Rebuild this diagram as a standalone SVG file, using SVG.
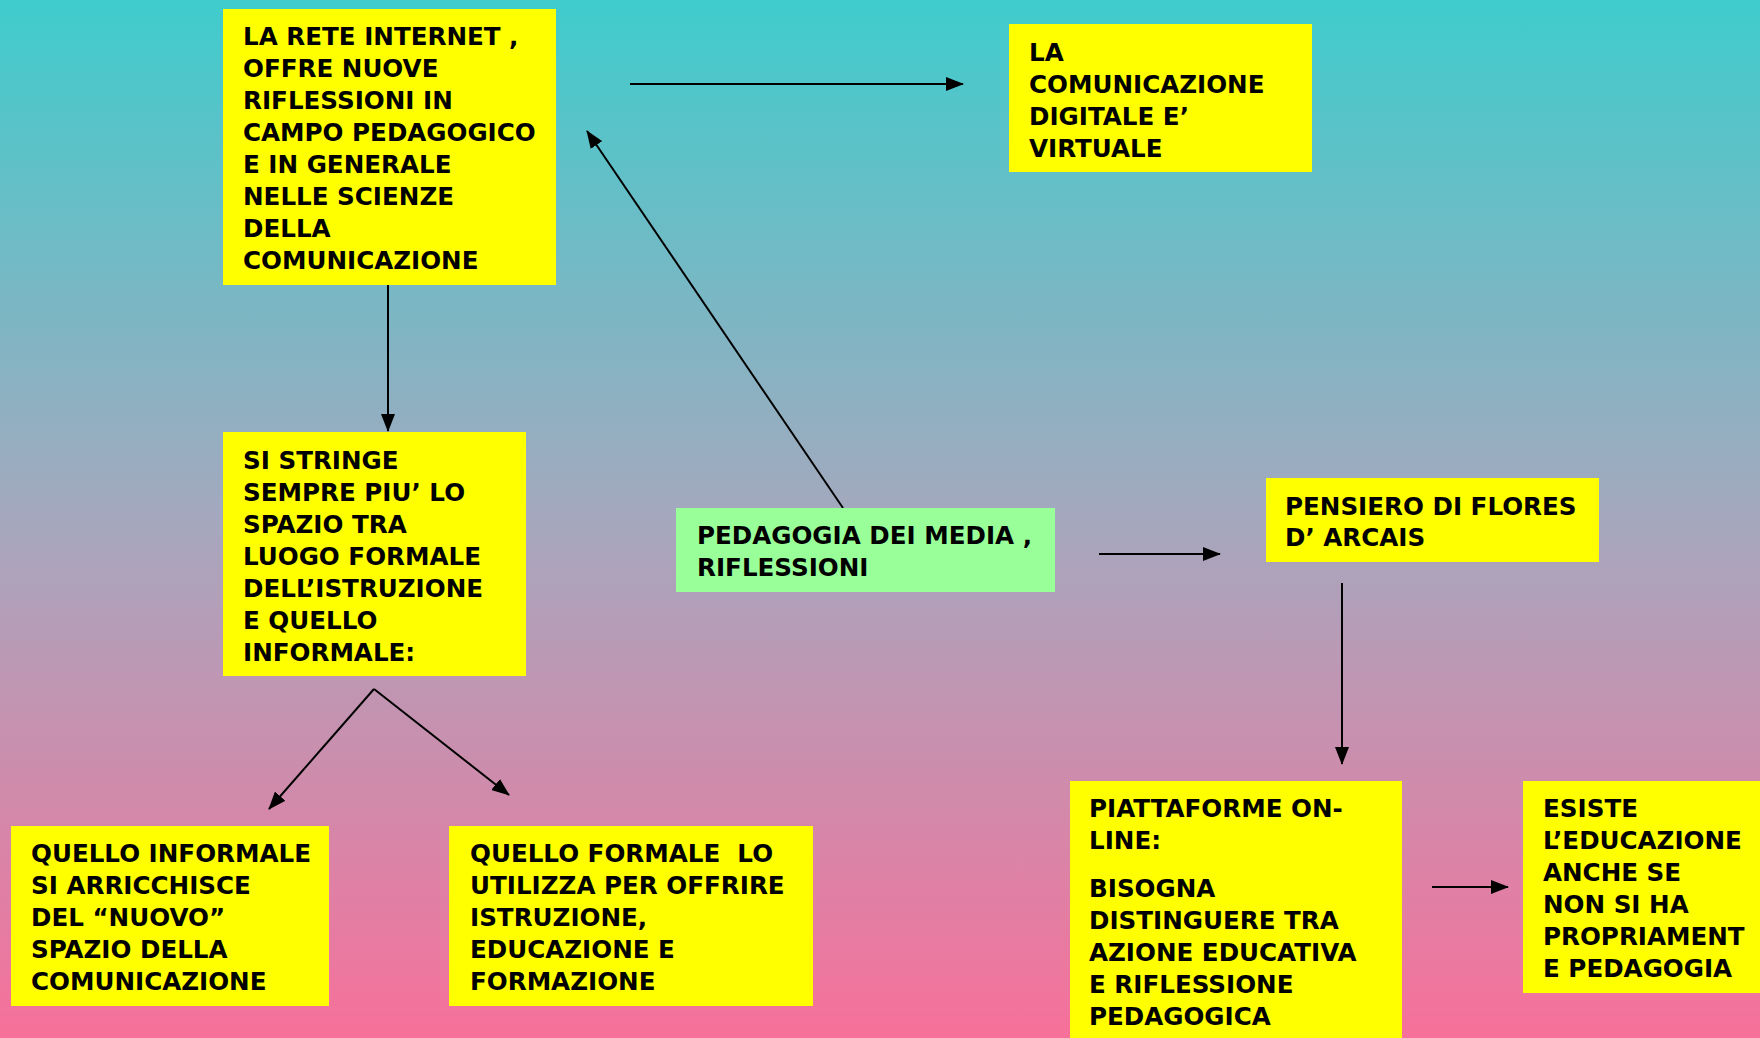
<svg xmlns="http://www.w3.org/2000/svg" width="1760" height="1038" viewBox="0 0 1760 1038">
<defs>
<linearGradient id="bg" x1="0" y1="0" x2="0" y2="1">
<stop offset="0" stop-color="#3FCCCC"/>
<stop offset="0.5" stop-color="#A5A8BE"/>
<stop offset="1" stop-color="#F7709A"/>
</linearGradient>
<marker id="ah" markerUnits="userSpaceOnUse" markerWidth="18" markerHeight="14" refX="17" refY="7" orient="auto">
<path d="M0,0 L18,7 L0,14 Z" fill="#000"/>
</marker>
</defs>
<style>
.box{fill:#FFFF00}
.green{fill:#99FF99}
text{font-family:"DejaVu Sans","Liberation Sans",sans-serif;font-weight:bold;font-size:24.6px;fill:#000}
.conn line{stroke:#000;stroke-width:2;marker-end:url(#ah)}
</style>
<rect width="1760" height="1038" fill="url(#bg)"/>

<g id="connectors" class="conn">
<line x1="630" y1="84" x2="963" y2="84"/>
<line x1="388" y1="283" x2="388" y2="431"/>
<line x1="843" y1="508" x2="587" y2="131"/>
<line x1="374" y1="689" x2="269" y2="809"/>
<line x1="374" y1="689" x2="509" y2="795"/>
<line x1="1099" y1="554" x2="1220" y2="554"/>
<line x1="1342" y1="583" x2="1342" y2="764"/>
<line x1="1432" y1="887" x2="1508" y2="887"/>
</g>

<g id="node-rete">
<rect class="box" x="223" y="9" width="333" height="276"/>
<text x="243" y="45">LA RETE INTERNET ,</text>
<text x="243" y="77">OFFRE NUOVE</text>
<text x="243" y="109">RIFLESSIONI IN</text>
<text x="243" y="141">CAMPO PEDAGOGICO</text>
<text x="243" y="173">E IN GENERALE</text>
<text x="243" y="205">NELLE SCIENZE</text>
<text x="243" y="237">DELLA</text>
<text x="243" y="269">COMUNICAZIONE</text>
</g>

<g id="node-digitale">
<rect class="box" x="1009" y="24" width="303" height="148"/>
<text x="1029" y="61">LA</text>
<text x="1029" y="93">COMUNICAZIONE</text>
<text x="1029" y="125">DIGITALE E’</text>
<text x="1029" y="157">VIRTUALE</text>
</g>

<g id="node-stringe">
<rect class="box" x="223" y="432" width="303" height="244"/>
<text x="243" y="469">SI STRINGE</text>
<text x="243" y="501">SEMPRE PIU’ LO</text>
<text x="243" y="533">SPAZIO TRA</text>
<text x="243" y="565">LUOGO FORMALE</text>
<text x="243" y="597">DELL’ISTRUZIONE</text>
<text x="243" y="629">E QUELLO</text>
<text x="243" y="661">INFORMALE:</text>
</g>

<g id="node-pedagogia">
<rect class="green" x="676" y="508" width="379" height="84"/>
<text x="697" y="544">PEDAGOGIA DEI MEDIA ,</text>
<text x="697" y="576">RIFLESSIONI</text>
</g>

<g id="node-informale">
<rect class="box" x="11" y="826" width="318" height="180"/>
<text x="31" y="862">QUELLO INFORMALE</text>
<text x="31" y="894">SI ARRICCHISCE</text>
<text x="31" y="926">DEL “NUOVO”</text>
<text x="31" y="958">SPAZIO DELLA</text>
<text x="31" y="990">COMUNICAZIONE</text>
</g>

<g id="node-formale">
<rect class="box" x="449" y="826" width="364" height="180"/>
<text x="470" y="862" xml:space="preserve">QUELLO FORMALE  LO</text>
<text x="470" y="894">UTILIZZA PER OFFRIRE</text>
<text x="470" y="926">ISTRUZIONE,</text>
<text x="470" y="958">EDUCAZIONE E</text>
<text x="470" y="990">FORMAZIONE</text>
</g>

<g id="node-flores">
<rect class="box" x="1266" y="478" width="333" height="84"/>
<text x="1285" y="515">PENSIERO DI FLORES</text>
<text x="1285" y="546">D’ ARCAIS</text>
</g>

<g id="node-piattaforme">
<rect class="box" x="1070" y="781" width="332" height="257"/>
<text x="1089" y="817">PIATTAFORME ON-</text>
<text x="1089" y="849">LINE:</text>
<text x="1089" y="897">BISOGNA</text>
<text x="1089" y="929">DISTINGUERE TRA</text>
<text x="1089" y="961">AZIONE EDUCATIVA</text>
<text x="1089" y="993">E RIFLESSIONE</text>
<text x="1089" y="1025">PEDAGOGICA</text>
</g>

<g id="node-esiste">
<rect class="box" x="1523" y="781" width="237" height="212"/>
<text x="1543" y="817">ESISTE</text>
<text x="1543" y="849">L’EDUCAZIONE</text>
<text x="1543" y="881">ANCHE SE</text>
<text x="1543" y="913">NON SI HA</text>
<text x="1543" y="945">PROPRIAMENT</text>
<text x="1543" y="977">E PEDAGOGIA</text>
</g>
</svg>
